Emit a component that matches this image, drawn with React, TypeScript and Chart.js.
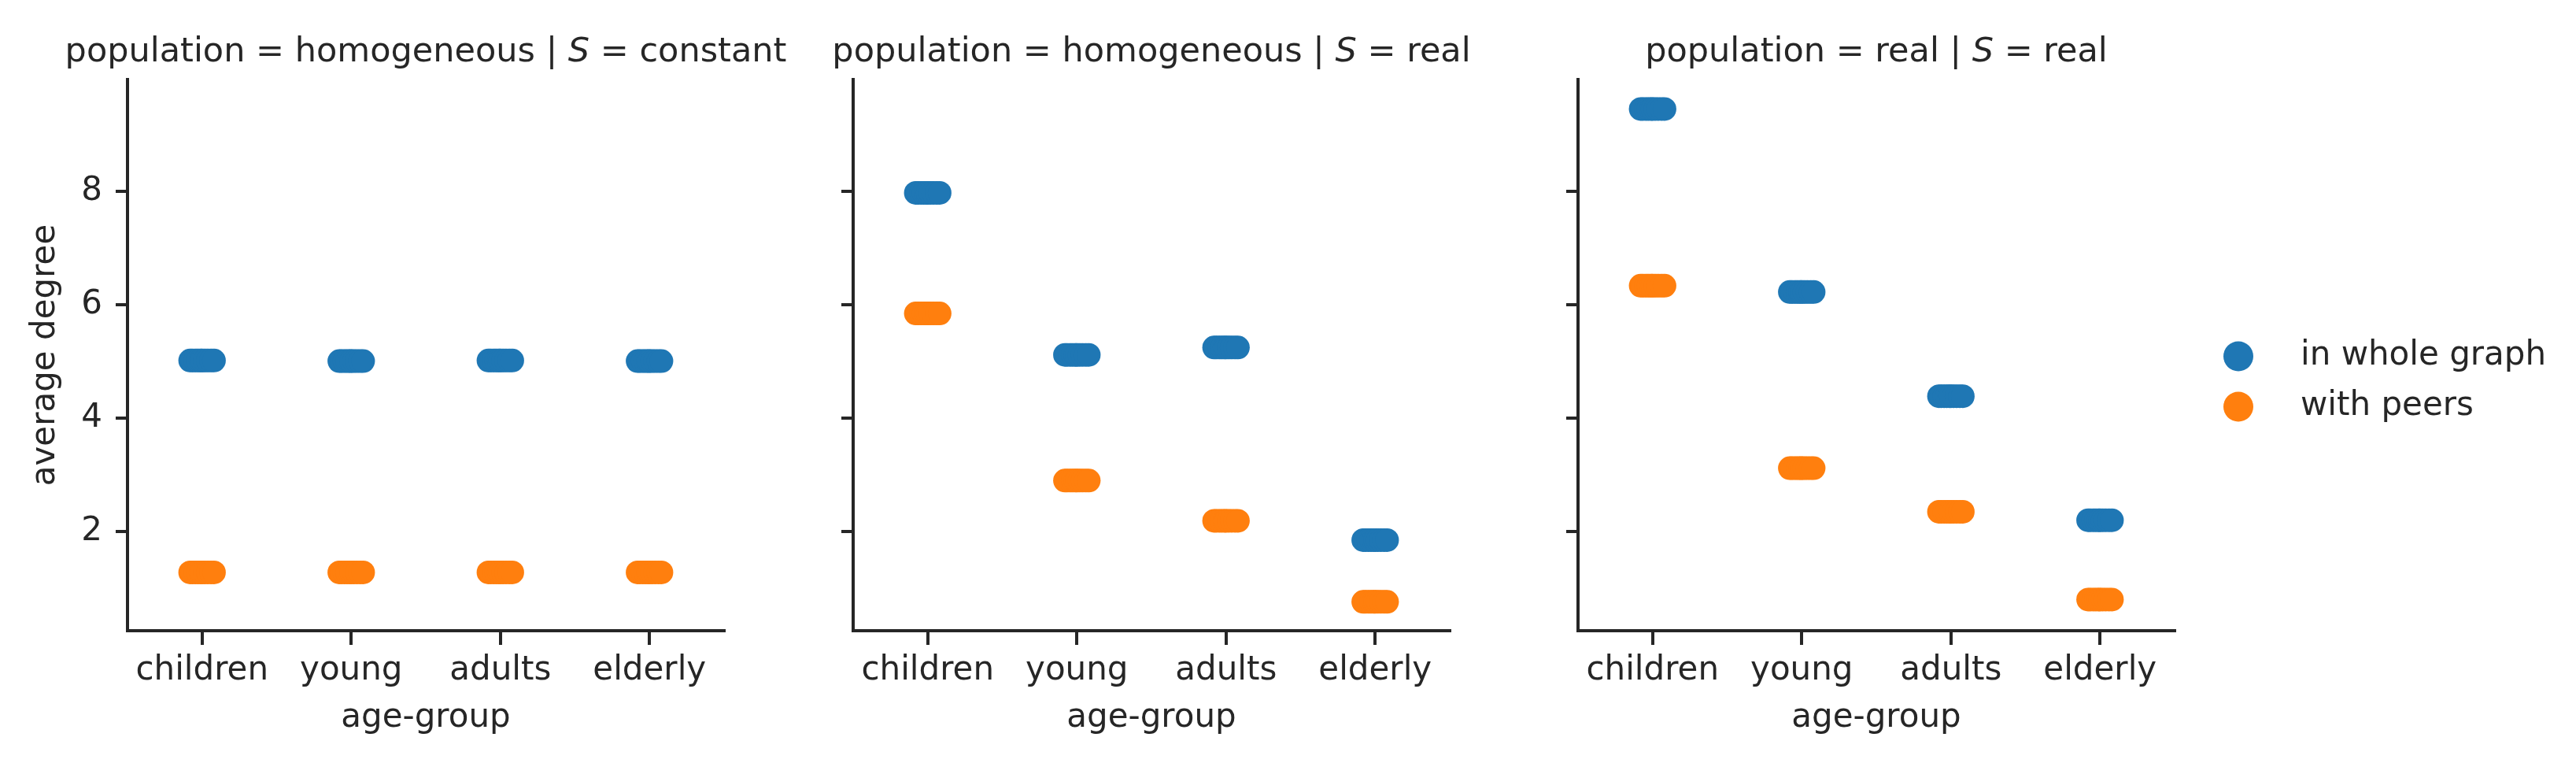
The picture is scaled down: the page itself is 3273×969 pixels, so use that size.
import React, { useEffect, useRef } from "react";
import { Chart, registerables } from "chart.js";

Chart.register(...registerables);

const FAMILY = "'DejaVu Sans', sans-serif";
const INK = "#262626";

const CATEGORIES = ["children", "young", "adults", "elderly"];
const Y_TICKS = [2, 4, 6, 8];
const SERIES = ["in whole graph", "with peers"];
const SERIES_COLORS = ["#1f77b4", "#ff7f0e"];
// horizontal strip offsets (category units) of the plotted runs
const JITTER = [-0.08, -0.065, -0.045, -0.028, -0.01, 0.0, 0.018, 0.038, 0.06, 0.08];

const HOMOG_CONST_WHOLE = [5.02, 5.01, 5.02, 5.01];
const HOMOG_CONST_PEERS = [1.28, 1.28, 1.28, 1.28];
const HOMOG_REAL_WHOLE = [7.98, 5.12, 5.25, 1.85];
const HOMOG_REAL_PEERS = [5.85, 2.9, 2.19, 0.76];
const REAL_REAL_WHOLE = [9.46, 6.23, 4.39, 2.2];
const REAL_REAL_PEERS = [6.34, 3.12, 2.35, 0.8];

const TITLE_1 = ["population = homogeneous | ", "S", " = constant"];
const TITLE_2 = ["population = homogeneous | ", "S", " = real"];
const TITLE_3 = ["population = real | ", "S", " = real"];

const Y_MIN = 0.25;
const Y_MAX = 9.98;

function strip(values: number[]) {
  const pts: { x: number; y: number }[] = [];
  values.forEach((v, i) => {
    JITTER.forEach((j) => pts.push({ x: i + j, y: v }));
  });
  return pts;
}

function titlePlugin(parts: string[]) {
  return {
    id: "facetTitle",
    afterDraw(chart: any) {
      const ctx = chart.ctx as CanvasRenderingContext2D;
      const { left, right, top } = chart.chartArea;
      ctx.save();
      const fonts = parts.map((_, k) => (k === 1 ? `italic 43px ${FAMILY}` : `43px ${FAMILY}`));
      const widths = parts.map((p, k) => {
        ctx.font = fonts[k];
        return ctx.measureText(p).width;
      });
      const total = widths.reduce((a, b) => a + b, 0);
      let x = (left + right) / 2 - total / 2;
      ctx.fillStyle = INK;
      ctx.textBaseline = "alphabetic";
      ctx.textAlign = "left";
      parts.forEach((p, k) => {
        ctx.font = fonts[k];
        ctx.fillText(p, x, top - 23);
        x += widths[k];
      });
      ctx.restore();
    },
  };
}

const legendPlugin = {
  id: "sideLegend",
  afterDraw(chart: any) {
    const ctx = chart.ctx as CanvasRenderingContext2D;
    const { right } = chart.chartArea;
    const mid = chart.height / 2;
    ctx.save();
    chart.data.datasets.forEach((ds: any, k: number) => {
      const y = mid - 32 + 64 * k;
      ctx.beginPath();
      ctx.arc(right + 81, y, 19, 0, Math.PI * 2);
      ctx.fillStyle = ds.backgroundColor;
      ctx.fill();
      ctx.font = `42px ${FAMILY}`;
      ctx.fillStyle = INK;
      ctx.textBaseline = "middle";
      ctx.textAlign = "left";
      ctx.fillText(ds.label, right + 160, y);
    });
    ctx.restore();
  },
};

type PanelProps = {
  left: number;
  width: number;
  rightPad: number;
  title: string[];
  whole: number[];
  peers: number[];
  first: boolean;
  legend: boolean;
};

function Panel({ left, width, rightPad, title, whole, peers, first, legend }: PanelProps) {
  const ref = useRef<HTMLCanvasElement>(null);
  useEffect(() => {
    const gridOpts = (len: number) => ({
      display: true,
      drawOnChartArea: false,
      drawTicks: true,
      tickLength: len,
      color: INK,
      lineWidth: 4,
    });
    const plugins: any[] = [titlePlugin(title)];
    if (legend) plugins.push(legendPlugin);
    const chart = new Chart(ref.current as HTMLCanvasElement, {
      type: "scatter",
      data: {
        datasets: [
          {
            label: SERIES[0],
            data: strip(whole),
            backgroundColor: SERIES_COLORS[0],
            borderWidth: 0,
            pointRadius: 15,
            pointHoverRadius: 15,
            clip: false as any,
          },
          {
            label: SERIES[1],
            data: strip(peers),
            backgroundColor: SERIES_COLORS[1],
            borderWidth: 0,
            pointRadius: 15,
            pointHoverRadius: 15,
            clip: false as any,
          },
        ],
      },
      options: {
        responsive: false,
        animation: false,
        devicePixelRatio: 1,
        events: [],
        layout: { padding: { left: 0, top: 101, right: rightPad, bottom: 0 } },
        plugins: {
          legend: { display: false },
          tooltip: { enabled: false },
          title: { display: false },
        },
        scales: {
          x: {
            type: "linear",
            min: -0.5,
            max: 3.5,
            afterBuildTicks: (s: any) => {
              s.ticks = CATEGORIES.map((_, i) => ({ value: i }));
            },
            afterFit: (s: any) => {
              s.height = 168;
            },
            ticks: {
              callback: (v: any) => CATEGORIES[Math.round(Number(v))],
              font: { family: FAMILY, size: 42 },
              color: INK,
              padding: 8,
              maxRotation: 0,
              autoSkip: false,
            },
            grid: gridOpts(18) as any,
            border: { display: true, color: INK, width: 4 },
            title: {
              display: true,
              text: "age-group",
              font: { family: FAMILY, size: 42 },
              color: INK,
              padding: { top: 0, bottom: 32 },
            },
          },
          y: {
            type: "linear",
            min: Y_MIN,
            max: Y_MAX,
            afterBuildTicks: (s: any) => {
              s.ticks = Y_TICKS.map((v) => ({ value: v }));
            },
            afterFit: (s: any) => {
              s.width = 162;
            },
            ticks: {
              display: first,
              font: { family: FAMILY, size: 42 },
              color: INK,
              padding: 17,
            },
            grid: gridOpts(15) as any,
            border: { display: true, color: INK, width: 4 },
            title: {
              display: first,
              text: "average degree",
              font: { family: FAMILY, size: 42 },
              color: INK,
              padding: { top: 33, bottom: 0 },
            },
          },
        },
      },
      plugins,
    } as any);
    return () => chart.destroy();
  }, []);
  return (
    <canvas
      ref={ref}
      width={width}
      height={969}
      style={{ position: "absolute", left, top: 0, width, height: 969 }}
    />
  );
}

export default function App() {
  return (
    <div
      style={{
        position: "absolute",
        left: 0,
        top: 0,
        width: 3273,
        height: 969,
        background: "#ffffff",
        overflow: "hidden",
      }}
    >
      <Panel left={0} width={1020} rightPad={100} title={TITLE_1} whole={HOMOG_CONST_WHOLE} peers={HOMOG_CONST_PEERS} first={true} legend={false} />
      <Panel left={922} width={1020} rightPad={100} title={TITLE_2} whole={HOMOG_REAL_WHOLE} peers={HOMOG_REAL_PEERS} first={false} legend={false} />
      <Panel left={1843} width={1430} rightPad={510} title={TITLE_3} whole={REAL_REAL_WHOLE} peers={REAL_REAL_PEERS} first={false} legend={true} />
    </div>
  );
}
